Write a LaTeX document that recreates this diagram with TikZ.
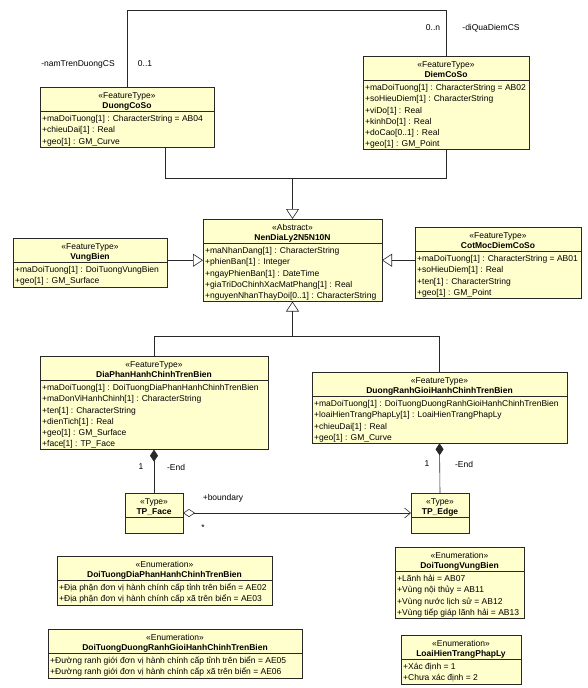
\documentclass[tikz,border=0pt]{standalone}
\usepackage{fontspec}
\setmainfont{Liberation Sans}
\usetikzlibrary{arrows.meta,calc}
\definecolor{classfill}{RGB}{255,255,206}
\definecolor{edgecol}{RGB}{40,40,40}
\newcommand\umlfont{\fontsize{8.5}{11.2}\selectfont}
\newcommand\hdrfont{\fontsize{8.5}{10}\selectfont}
\newcommand\umlbox[7]{%
  \pgfmathsetmacro\ubw{#4-#2}%
  \pgfmathsetmacro\ubh{#5==0 ? 40 : 24+#5*11.2+2.5}%
  \node[classbox, minimum width=\ubw pt, minimum height=\ubh pt] (#1) at (#2,#3) {};
  \draw[sepline] ([yshift=-24pt]#1.north west) -- ([yshift=-24pt]#1.north east);
  \node[hdrtext] (#1-h) at ([yshift=-2pt]#1.north) {\rule{0pt}{9pt}#6};
  \ifnum#5>0 \node[attrtext] (#1-a) at ([xshift=2pt,yshift=-25.5pt]#1.north west) {\rule{0pt}{9pt}#7};\fi
}
\begin{document}
\begin{tikzpicture}[x=1pt,y=-1pt,
  classbox/.style={draw=edgecol, fill=classfill, line width=0.6pt, anchor=north west, inner sep=0pt, outer sep=0pt},
  sepline/.style={draw=edgecol, line width=0.6pt},
  hdrtext/.style={anchor=north, align=center, inner sep=0pt, font=\hdrfont},
  attrtext/.style={anchor=north west, align=left, inner sep=0pt, font=\umlfont},
  lbl/.style={inner sep=0pt, font=\umlfont},
  conn/.style={draw=edgecol, line width=0.6pt},
  gen/.style={conn, -{Triangle[open, length=10pt, width=13pt]}},
  comp/.style={conn, {Diamond[length=12pt, width=8pt]}-},
  agg/.style={conn, {Diamond[open, length=12pt, width=8pt]}-{Straight Barb[length=6pt, width=10pt]}}]
\useasboundingbox (0,0) rectangle (587,688);

% classes
\umlbox{dcs}{40}{87}{214}{3}{«FeatureType»\\\textbf{DuongCoSo}}{+maDoiTuong[1] : CharacterString = AB04\\+chieuDai[1] : Real\\+geo[1] : GM\_Curve}
\umlbox{dcm}{363}{56}{529}{6}{«FeatureType»\\\textbf{DiemCoSo}}{+maDoiTuong[1] : CharacterString = AB02\\+soHieuDiem[1] : CharacterString\\+viDo[1] : Real\\+kinhDo[1] : Real\\+doCao[0..1] : Real\\+geo[1] : GM\_Point}
\umlbox{nen}{203}{219}{382}{5}{«Abstract»\\\textbf{NenDiaLy2N5N10N}}{+maNhanDang[1] : CharacterString\\+phienBan[1] : Integer\\+ngayPhienBan[1] : DateTime\\+giaTriDoChinhXacMatPhang[1] : Real\\+nguyenNhanThayDoi[0..1] : CharacterString}
\umlbox{vb}{13}{238}{167}{2}{«FeatureType»\\\textbf{VungBien}}{+maDoiTuong[1] : DoiTuongVungBien\\+geo[1] : GM\_Surface}
\umlbox{cm}{415}{227}{581}{4}{«FeatureType»\\\textbf{CotMocDiemCoSo}}{+maDoiTuong[1] : CharacterString = AB01\\+soHieuDiem[1] : Real\\+ten[1] : CharacterString\\+geo[1] : GM\_Point}
\umlbox{dp}{40}{356}{268}{6}{«FeatureType»\\\textbf{DiaPhanHanhChinhTrenBien}}{+maDoiTuong[1] : DoiTuongDiaPhanHanhChinhTrenBien\\+maDonViHanhChinh[1] : CharacterString\\+ten[1] : CharacterString\\+dienTich[1] : Real\\+geo[1] : GM\_Surface\\+face[1] : TP\_Face}
\umlbox{drg}{312}{372}{567}{4}{«FeatureType»\\\textbf{DuongRanhGioiHanhChinhTrenBien}}{+maDoiTuong[1] : DoiTuongDuongRanhGioiHanhChinhTrenBien\\+loaiHienTrangPhapLy[1] : LoaiHienTrangPhapLy\\+chieuDai[1] : Real\\+geo[1] : GM\_Curve}
\umlbox{tpf}{125}{493}{183}{0}{«Type»\\\textbf{TP\_Face}}{}
\umlbox{tpe}{411}{493}{469}{0}{«Type»\\\textbf{TP\_Edge}}{}
\umlbox{edp}{57}{556}{272}{2}{«Enumeration»\\\textbf{DoiTuongDiaPhanHanhChinhTrenBien}}{+Địa phận đơn vị hành chính cấp tỉnh trên biển = AE02\\+Địa phận đơn vị hành chính cấp xã trên biển = AE03}
\umlbox{edr}{48}{629}{302}{2}{«Enumeration»\\\textbf{DoiTuongDuongRanhGioiHanhChinhTrenBien}}{+Đường ranh giới đơn vị hành chính cấp tỉnh trên biển = AE05\\+Đường ranh giới đơn vị hành chính cấp xã trên biển = AE06}
\umlbox{evb}{395}{547}{524}{4}{«Enumeration»\\\textbf{DoiTuongVungBien}}{+Lãnh hải = AB07\\+Vùng nội thủy = AB11\\+Vùng nước lịch sử = AB12\\+Vùng tiếp giáp lãnh hải = AB13}
\umlbox{elh}{401}{635}{521}{2}{«Enumeration»\\\textbf{LoaiHienTrangPhapLy}}{+Xác định = 1\\+Chưa xác định = 2}

% association at top
\coordinate (topy) at (0,10);
\draw[conn] (dcs.north) -- (dcs.north |- topy) -| (dcm.north);
\node[lbl] (l1) at (78,64) {-namTrenDuongCS};
\node[lbl] (l2) at (145,64) {0..1};
\node[lbl] (l3) at (433,28) {0..n};
\node[lbl] (l4) at (491,28) {-diQuaDiemCS};

% generalizations
\coordinate (gj1) at (292.5,178);
\draw[conn] ([xshift=38pt]dcs.south) |- (gj1);
\draw[conn] (dcm.south) |- (gj1);
\draw[gen] (gj1) -- (nen.north);
\draw[gen] (vb.east |- nen.west) -- (nen.west);
\draw[gen] (cm.west |- nen.east) -- (nen.east);
\coordinate (gj2) at (292.5,336);
\draw[conn] (dp.north) |- (gj2);
\draw[conn] (drg.north) |- (gj2);
\draw[gen] (gj2) -- (nen.south);

% compositions and aggregation
\draw[comp] (dp.south) -- (tpf.north);
\draw[comp] (drg.south) -- (tpe.north);
\draw[agg] (tpf.east) -- (tpe.west);
\node[lbl] (l5) at (141,467) {1};
\node[lbl] (l6) at (176,467) {-End};
\node[lbl] (l7) at (427,464) {1};
\node[lbl] (l8) at (464,464) {-End};
\node[lbl] (l9) at (223,498) {+boundary};
\node[lbl] (l10) at (203,528) {*};
\end{tikzpicture}
\end{document}
